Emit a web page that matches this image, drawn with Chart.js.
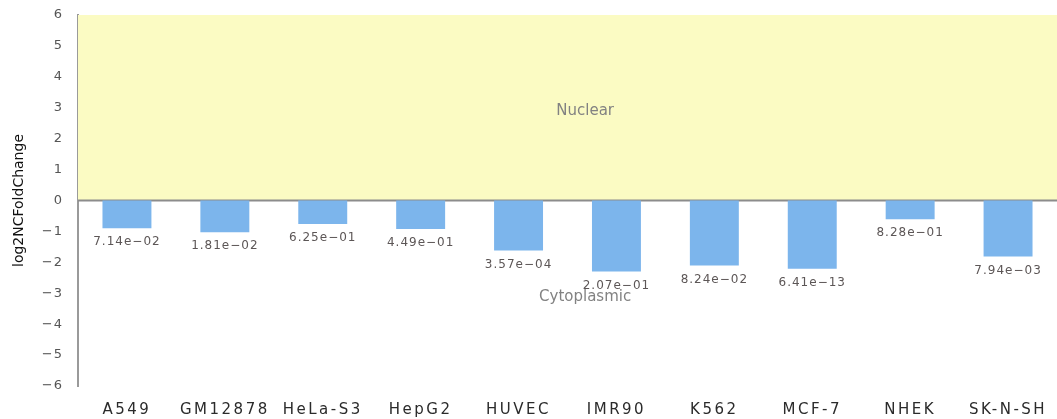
<!DOCTYPE html>
<html>
<head>
<meta charset="utf-8">
<script src="https://cdn.jsdelivr.net/npm/chart.js@4"></script>
<style>
    body { margin: 0; background: #ffffff; }
    #wrap { width: 1057px; height: 419px; }
</style>
</head>
<body>
<div id="wrap"><canvas id="graficoNC" width="1057" height="419"></canvas></div>
<script>
// dados
const cellLines = ['A549', 'GM12878', 'HeLa-S3', 'HepG2', 'HUVEC', 'IMR90', 'K562', 'MCF-7', 'NHEK', 'SK-N-SH'];
const log2Values = [-0.90, -1.03, -0.76, -0.92, -1.62, -2.30, -2.10, -2.21, -0.61, -1.81];
const pValues = ['7.14e-02', '1.81e-02', '6.25e-01', '4.49e-01', '3.57e-04', '2.07e-01', '8.24e-02', '6.41e-13', '8.28e-01', '7.94e-03'];
const yTicks = [-6, -5, -4, -3, -2, -1, 0, 1, 2, 3, 4, 5, 6];
const bandLabels = ['Nuclear', 'Cytoplasmic'];

const fonte = "'DejaVu Sans', sans-serif";

// a fonte original é mais larga: espaça as letras só nos rótulos dos ticks
function espacarLabels(scale, espaco) {
    if (scale._espacado) return;
    scale._espacado = true;
    const original = scale.drawLabels;
    scale.drawLabels = function (area) {
        this.ctx.save();
        this.ctx.letterSpacing = espaco;
        original.call(this, area);
        this.ctx.restore();
    };
}

// faixa amarela, linha do zero e textos
const bandasPlugin = {
    id: 'bandas',
    beforeDatasetsDraw(chart) {
        const ctx = chart.ctx;
        const area = chart.chartArea;
        const y = chart.scales.y;
        const topo = y.getPixelForValue(yTicks[yTicks.length - 1]);
        const zero = y.getPixelForValue(0);
        const fundo = y.getPixelForValue(yTicks[0]);

        ctx.save();
        ctx.fillStyle = '#fbfbc3';
        ctx.fillRect(area.left, topo, area.right - area.left, zero - topo);

        ctx.strokeStyle = '#8c8c8c';
        ctx.lineWidth = 2;
        ctx.beginPath();
        ctx.moveTo(area.left, zero);
        ctx.lineTo(area.right, zero);
        ctx.stroke();

        const cx = area.left + (area.right - area.left) * 0.518;
        ctx.fillStyle = '#828282';
        ctx.font = "15px " + fonte;
        ctx.textAlign = 'center';
        ctx.textBaseline = 'middle';
        ctx.fillText(bandLabels[0], cx, (topo + zero) / 2 + 3);
        ctx.fillText(bandLabels[1], cx, (zero + fundo) / 2 + 4);
        ctx.restore();
    },
    afterDatasetsDraw(chart) {
        const ctx = chart.ctx;
        const meta = chart.getDatasetMeta(0);
        ctx.save();
        ctx.fillStyle = '#5c5656';
        ctx.font = "12px " + fonte;
        ctx.letterSpacing = '1px';
        ctx.textAlign = 'center';
        ctx.textBaseline = 'middle';
        meta.data.forEach((bar, i) => {
            ctx.fillText(pValues[i].replace('-', '\u2212'), bar.x, bar.y + 14);
        });
        ctx.restore();
    }
};

const ctx = document.getElementById('graficoNC').getContext('2d');
new Chart(ctx, {
    type: 'bar',
    data: {
        labels: cellLines,
        datasets: [{
            data: log2Values,
            backgroundColor: '#7cb5ec',
            borderWidth: 0,
            barPercentage: 0.5,
            categoryPercentage: 1.0
        }]
    },
    plugins: [bandasPlugin],
    options: {
        responsive: false,
        animation: false,
        devicePixelRatio: 1,
        layout: {
            padding: { top: 15, right: 0, bottom: 0, left: 0 }
        },
        plugins: {
            legend: { display: false },
            tooltip: { enabled: false }
        },
        scales: {
            x: {
                grid: { display: false, drawTicks: false },
                border: { display: false },
                ticks: {
                    color: '#2b2b2b',
                    padding: 15,
                    maxRotation: 0,
                    autoSkip: false,
                    font: { family: fonte, size: 15 }
                },
                afterFit(scale) {
                    scale.height = 33;
                    scale.paddingLeft = 0;
                    scale.paddingRight = 0;
                    espacarLabels(scale, '2.5px');
                }
            },
            y: {
                min: -6,
                max: 6,
                grid: { display: false, drawTicks: false },
                border: { display: true, color: '#9a9a9a', width: 2 },
                afterBuildTicks(scale) {
                    scale.ticks = yTicks.map(v => ({ value: v }));
                },
                ticks: {
                    color: '#555555',
                    padding: 15,
                    font: { family: fonte, size: 13 },
                    callback: value => String(value).replace('-', '\u2212')
                },
                title: {
                    display: true,
                    text: 'log2NCFoldChange',
                    color: '#111111',
                    padding: { top: 11, bottom: 0 },
                    font: { family: fonte, size: 14 }
                },
                afterFit(scale) {
                    scale.width = 78;
                    scale.paddingTop = 0;
                    scale.paddingBottom = 0;
                    espacarLabels(scale, '1px');
                }
            }
        }
    }
});
</script>
</body>
</html>
